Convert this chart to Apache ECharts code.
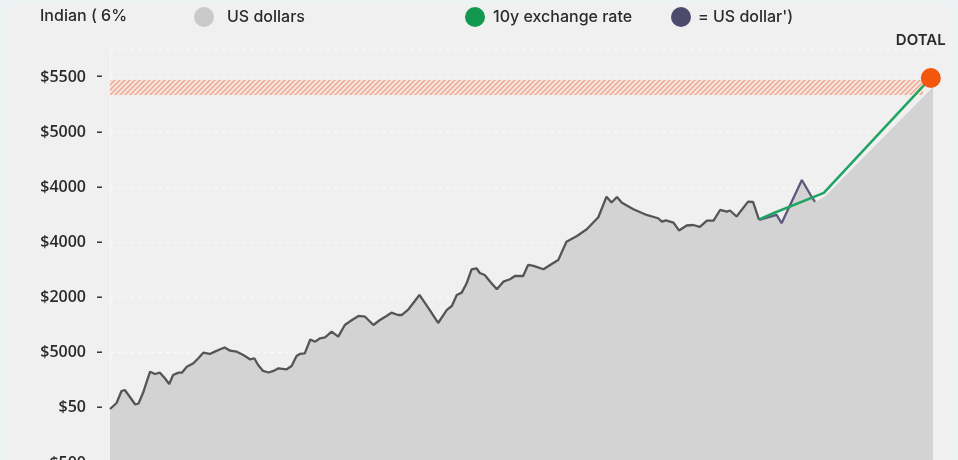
<!DOCTYPE html>
<html><head><meta charset="utf-8">
<script src="https://cdn.jsdelivr.net/npm/echarts@6/dist/echarts.min.js"></script>
<style>
html,body{margin:0;padding:0;width:958px;height:460px;overflow:hidden;background:#edf2f2;}
#card{position:absolute;left:8px;top:6px;width:942px;height:490px;background:#f0f0f0;border-radius:14px;}
#chart{position:absolute;left:0;top:0;width:958px;height:480px;}
</style></head><body><div id="card"></div><div id="chart"></div>
<script>
// tick labels of the y axis (as printed on the reference)
const yTickLabels = ['$500','$50','$5000','$2000','$4000','$4000','$5000','$5500'];

// main gray series ("US dollars")
const usdPeriods = [0,1.2,2.1,2.7,3.6,4.6,5.2,6.1,7.3,8.2,9.1,10.0,10.8,11.5,12.5,13.1,14.0,15.2,16.1,17.0,18.2,19.1,20.1,20.9,21.9,23.1,24.3,25.5,26.3,27.0,27.9,28.9,29.8,30.7,32.2,33.1,34.0,34.6,35.5,36.5,37.4,38.3,39.2,40.4,41.6,42.8,44.1,45.3,46.5,48.0,49.2,50.4,51.3,52.5,53.2,54.4,56.4,58.2,59.8,61.4,62.3,63.2,64.1,65.0,65.9,66.8,67.4,68.3,69.3,70.5,71.7,72.9,73.8,75.3,76.2,77.2,79.0,80.5,81.7,83.2,85.1,86.9,89.0,90.5,91.4,92.4,93.3,95.4,97.8,99.9,100.6,101.3,102.7,103.7,105.1,106.3,107.5,108.8,110.0,111.2,112.4,113.0,114.2,116.3,117.2,118.3];
const usdValues = [979,1088,1306,1324,1202,1061,1079,1293,1656,1614,1638,1536,1433,1596,1638,1638,1746,1808,1899,2000,1977,2019,2062,2095,2037,2019,1959,1881,1899,1777,1669,1641,1669,1717,1699,1759,1941,1977,1989,2240,2200,2262,2280,2381,2291,2503,2593,2666,2653,2503,2593,2666,2726,2684,2684,2787,3047,2787,2539,2775,2847,3047,3089,3259,3513,3531,3446,3410,3288,3150,3288,3332,3391,3391,3591,3573,3513,3609,3682,4014,4117,4238,4456,4830,4724,4824,4721,4601,4498,4438,4376,4398,4358,4217,4307,4316,4280,4394,4394,4588,4558,4579,4470,4739,4733,4407];

// latest stretch ("= US dollar')")
const recentPeriods = [118.3,121.5,122.4,126.1,127.9,128.5];
const recentValues  = [4407,4498,4347,5132,4824,4733];

// projected tail of the shaded area
const tailPeriods = [130.3,150];
const tailValues  = [4833,6819];

// 10y exchange rate
const fxPeriods = [118.3,120.9,130.1,149.6];
const fxValues  = [4416,4529,4897,6982];

// total point
const totalPeriod = 149.6, totalValue = 6982, totalLabel = 'DOTAL';

// hatched target band
const bandHigh = 6946, bandLow = 6674, bandEndPeriod = 148.2;

function pairs(xs, ys){ return xs.map((x,i)=>[x, ys[i]]); }

function stripes(){
  const s = 5;
  const c = document.createElement('canvas'); c.width = s; c.height = s;
  const g = c.getContext('2d');
  g.fillStyle = '#f5e6de'; g.fillRect(0,0,s,s);
  g.strokeStyle = '#efa893'; g.lineWidth = 1.5;
  g.beginPath();
  g.moveTo(0,s); g.lineTo(s,0);
  g.moveTo(-s,s); g.lineTo(s,-s);
  g.moveTo(0,2*s); g.lineTo(2*s,0);
  g.stroke();
  return c;
}

const areaData = pairs(usdPeriods, usdValues)
  .concat(pairs(recentPeriods.slice(1), recentValues.slice(1)))
  .concat(pairs(tailPeriods, tailValues));

const chart = echarts.init(document.getElementById('chart'), null, {renderer:'canvas'});
const font = 'Inter, "Noto Sans", sans-serif';
const legendText = {fontSize: 16, fontWeight: 500, color: '#2b2b2b', fontFamily: font};
chart.setOption({
  backgroundColor: 'transparent',
  animation: false,
  textStyle: {fontFamily: font},
  title: {text: 'Indian ( 6%', left: 40, top: 8, padding: 0,
    textStyle: {fontSize: 16, fontWeight: 500, color: '#2b2b2b', fontFamily: font}},
  legend: [
    {left: 194, top: 7, padding: 0, itemWidth: 20, itemHeight: 20, icon: 'circle',
     data: [{name: 'US dollars', itemStyle: {color: '#c9c9c9', borderWidth: 0}}],
     textStyle: Object.assign({padding: [0,0,0,8]}, legendText)},
    {left: 465, top: 7, padding: 0, itemWidth: 20, itemHeight: 20, icon: 'circle',
     data: [{name: '10y exchange rate', itemStyle: {color: '#12994f', borderWidth: 0}}],
     textStyle: Object.assign({padding: [0,0,0,3]}, legendText)},
    {left: 671, top: 7, padding: 0, itemWidth: 20, itemHeight: 20, icon: 'circle',
     data: [{name: "= US dollar')", itemStyle: {color: '#4d4a6d', borderWidth: 0}}],
     textStyle: Object.assign({padding: [0,0,0,2]}, legendText)}
  ],
  grid: {left: 110, right: 25, top: 49.4, bottom: 17, containLabel: false, outerBoundsMode: 'none'},
  xAxis: {type: 'value', min: 0, max: 150, show: false},
  yAxis: {
    type: 'value', min: 0, max: 7500, interval: 1000,
    axisLine: {show: true, lineStyle: {color: '#fafafa', width: 1}},
    axisTick: {show: false},
    splitLine: {show: true, lineStyle: {color: 'rgba(255,255,255,0.7)', type: [3,4], width: 1}},
    axisLabel: {
      margin: 7,
      formatter: v => (v % 1000 === 0 && yTickLabels[v/1000] !== undefined) ? '{v|' + yTickLabels[v/1000] + '}{d|-}' : '',
      rich: {
        v: {fontSize: 16, fontWeight: 600, color: '#2a2a2a', fontFamily: '"Open Sans", Inter, sans-serif'},
        d: {fontSize: 15, fontWeight: 600, color: '#3a3a3a', padding: [0,0,0,10], fontFamily: font}
      }
    }
  },
  series: [
    {name: 'area', type: 'line', data: areaData, showSymbol: false, silent: true,
     lineStyle: {width: 0}, areaStyle: {color: '#d3d3d3', opacity: 1}, z: 1,
     markArea: {silent: true, itemStyle: {color: {image: stripes(), repeat: 'repeat'}},
       data: [[{coord: [0, bandHigh]}, {coord: [bandEndPeriod, bandLow]}]]}},
    {name: 'US dollars', type: 'line', data: pairs(usdPeriods, usdValues), showSymbol: false,
     itemStyle: {color: '#c9c9c9'}, lineStyle: {color: '#555555', width: 2.3}, z: 3},
    {name: "= US dollar')", type: 'line', data: pairs(recentPeriods, recentValues), showSymbol: false,
     itemStyle: {color: '#4d4a6d'}, lineStyle: {color: '#5c5979', width: 2.3}, z: 3},
    {name: '10y exchange rate', type: 'line', data: pairs(fxPeriods, fxValues), showSymbol: false,
     itemStyle: {color: '#12994f'}, lineStyle: {color: '#1fa463', width: 2.5}, z: 4},
    {name: 'total', type: 'scatter', data: [[totalPeriod, totalValue]], symbolSize: 20,
     itemStyle: {color: '#f2570d', opacity: 1}, z: 5,
     label: {show: true, position: 'top', distance: 20, offset: [-10, 0], formatter: totalLabel,
       fontSize: 15, fontWeight: 600, color: '#2b2b2b', fontFamily: font}}
  ]
});
</script></body></html>
